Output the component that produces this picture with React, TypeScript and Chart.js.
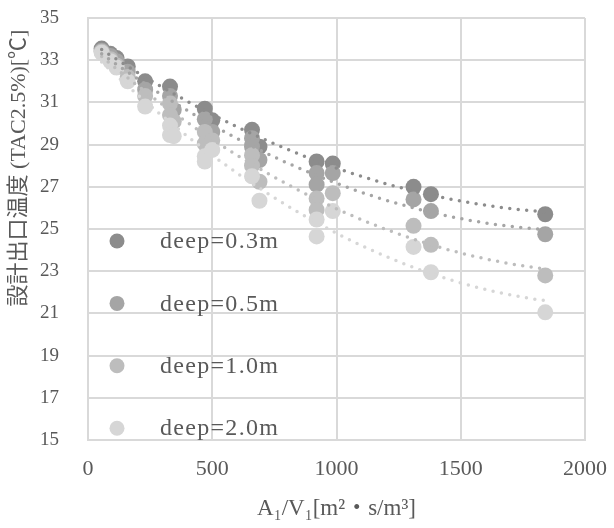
import React, { useEffect, useRef } from "react";
import { Chart, registerables } from "chart.js";

Chart.register(...registerables);

// ---- data ----
const seriesNames = ["deep=0.3m", "deep=0.5m", "deep=1.0m", "deep=2.0m"];

const x03 = [55, 90, 115, 160, 230, 330, 470, 500, 660, 690, 920, 985, 1310, 1380, 1840];
const y03 = [33.55, 33.3, 33.1, 32.7, 32.0, 31.75, 30.7, 30.15, 29.7, 28.9, 28.2, 28.1, 27.0, 26.65, 25.7];

const x05 = [55, 90, 115, 160, 230, 330, 345, 470, 500, 660, 660, 690, 920, 920, 985, 1310, 1380, 1840];
const y05 = [33.45, 33.2, 32.95, 32.45, 31.6, 31.3, 30.65, 30.2, 29.6, 29.3, 28.9, 28.27, 27.65, 27.1, 27.65, 26.4, 25.85, 24.75];

const x10 = [55, 90, 115, 160, 230, 330, 330, 345, 470, 470, 500, 660, 660, 690, 920, 920, 985, 1310, 1380, 1840];
const y10 = [33.4, 33.05, 32.75, 32.2, 31.3, 30.95, 30.4, 30.1, 29.6, 29.05, 29.2, 28.5, 28.0, 27.24, 26.45, 25.9, 26.7, 25.15, 24.25, 22.8];

const x20 = [55, 90, 115, 160, 230, 330, 330, 345, 470, 470, 500, 660, 690, 920, 920, 985, 1310, 1380, 1840];
const y20 = [33.35, 32.95, 32.65, 32.0, 30.8, 29.9, 29.45, 29.4, 28.45, 28.2, 28.75, 27.5, 26.34, 25.45, 24.65, 25.85, 24.15, 22.95, 21.05];

const xTickMin = 0;
const xTickMax = 2000;
const xTickStep = 500;
const yTickMin = 15;
const yTickMax = 35;
const yTickStep = 2;

const xTitle = "A\u2081/V\u2081[m\u00B2\u30FBs/m\u00B3]";
const yTitle = "設計出口温度 (TAC2.5%)[℃]";

const colors = ["#8c8c8c", "#a5a5a5", "#bdbdbd", "#d6d6d6"];
const textColor = "#595959";
const gridColor = "#d9d9d9";
const FONT = "'Liberation Serif', 'Noto Sans CJK JP', serif";

const seriesX = [x03, x05, x10, x20];
const seriesY = [y03, y05, y10, y20];

// polynomial (order 2) least-squares trendline, as in the spreadsheet
function quadFit(xs: number[], ys: number[]) {
  let s0 = 0, s1 = 0, s2 = 0, s3 = 0, s4 = 0, t0 = 0, t1 = 0, t2 = 0;
  for (let i = 0; i < xs.length; i++) {
    const x = xs[i], y = ys[i];
    s0 += 1; s1 += x; s2 += x * x; s3 += x * x * x; s4 += x * x * x * x;
    t0 += y; t1 += x * y; t2 += x * x * y;
  }
  const M = [
    [s0, s1, s2, t0],
    [s1, s2, s3, t1],
    [s2, s3, s4, t2],
  ];
  for (let c = 0; c < 3; c++) {
    let p = c;
    for (let r = c + 1; r < 3; r++) if (Math.abs(M[r][c]) > Math.abs(M[p][c])) p = r;
    [M[c], M[p]] = [M[p], M[c]];
    for (let r = 0; r < 3; r++) {
      if (r === c) continue;
      const f = M[r][c] / M[c][c];
      for (let k = c; k < 4; k++) M[r][k] -= f * M[c][k];
    }
  }
  return [M[0][3] / M[0][0], M[1][3] / M[1][1], M[2][3] / M[2][2]];
}

function trendPoints(xs: number[], ys: number[]) {
  const [a, b, c] = quadFit(xs, ys);
  const lo = Math.min(...xs);
  const hi = Math.max(...xs);
  const n = 60;
  const pts = [];
  for (let i = 0; i <= n; i++) {
    const x = lo + ((hi - lo) * i) / n;
    pts.push({ x, y: a + b * x + c * x * x });
  }
  return pts;
}

const overlayPlugin = {
  id: "overlay",
  afterDraw(chart: any) {
    const { ctx, chartArea } = chart;
    ctx.save();
    seriesNames.forEach((name, i) => {
      const cy = chartArea.top + 223 + i * 62.4;
      const cx = chartArea.left + 29;
      ctx.beginPath();
      ctx.arc(cx, cy, 7.5, 0, Math.PI * 2);
      ctx.fillStyle = colors[i];
      ctx.fill();
      ctx.font = `24px ${FONT}`;
      (ctx as any).letterSpacing = "1.3px";
      ctx.fillStyle = textColor;
      ctx.textAlign = "left";
      ctx.textBaseline = "middle";
      ctx.fillText(name, chartArea.left + 72, cy + 1);
      (ctx as any).letterSpacing = "0px";
    });
    ctx.translate(19, 168);
    ctx.rotate(-Math.PI / 2);
    ctx.font = `22px ${FONT}`;
    ctx.fillStyle = textColor;
    ctx.textAlign = "center";
    ctx.textBaseline = "middle";
    ctx.fillText(yTitle, 0, 0);
    ctx.restore();
  },
};

export default function App() {
  const ref = useRef<HTMLCanvasElement>(null);
  useEffect(() => {
    if (!ref.current) return;
    const datasets: any[] = [];
    seriesNames.forEach((name, i) => {
      datasets.push({
        type: "scatter",
        label: name,
        data: seriesX[i].map((x, j) => ({ x, y: seriesY[i][j] })),
        backgroundColor: colors[i],
        borderWidth: 0,
        pointRadius: 8,
        pointHoverRadius: 8,
        order: 4 - i,
      });
    });
    seriesNames.forEach((name, i) => {
      datasets.push({
        type: "line",
        label: name + " trend",
        data: trendPoints(seriesX[i], seriesY[i]),
        borderColor: colors[i],
        borderWidth: 3.5,
        borderDash: [0, 8.5],
        borderCapStyle: "round",
        pointRadius: 0,
        fill: false,
        tension: 0,
        order: 0,
      });
    });
    const chart = new Chart(ref.current, {
      type: "scatter",
      data: { datasets },
      plugins: [overlayPlugin],
      options: {
        animation: false,
        responsive: true,
        maintainAspectRatio: false,
        layout: { padding: { left: 0, right: 29, top: 18, bottom: 0 } },
        plugins: { legend: { display: false }, tooltip: { enabled: false } },
        scales: {
          x: {
            type: "linear",
            min: xTickMin,
            max: xTickMax,
            ticks: {
              stepSize: xTickStep,
              color: textColor,
              font: { family: FONT, size: 22 },
              padding: 16,
              maxRotation: 0,
              callback: (v: any) => String(v),
            },
            grid: { color: gridColor, lineWidth: 2, drawTicks: false },
            border: { color: gridColor, width: 2 },
            title: {
              display: true,
              text: xTitle,
              color: textColor,
              font: { family: FONT, size: 23 },
              padding: { top: 0, bottom: 5 },
            },
            afterFit: (s: any) => {
              s.height = 88;
              s.paddingTop = 0;
              s.paddingBottom = 0;
              s.paddingLeft = 0;
              s.paddingRight = 0;
            },
          },
          y: {
            type: "linear",
            min: yTickMin,
            max: yTickMax,
            ticks: {
              stepSize: yTickStep,
              color: textColor,
              font: { family: FONT, size: 19 },
              padding: 29,
              callback: (v: any) => String(v),
            },
            grid: { color: gridColor, lineWidth: 2, drawTicks: false },
            border: { color: gridColor, width: 2 },
            afterFit: (s: any) => {
              s.width = 88;
              s.paddingTop = 0;
              s.paddingBottom = 0;
              s.paddingLeft = 0;
              s.paddingRight = 0;
            },
          },
        },
      },
    });
    return () => chart.destroy();
  }, []);
  return (
    <div style={{ position: "fixed", left: 0, top: 0, width: 614, height: 528, background: "#fff" }}>
      <canvas ref={ref} />
    </div>
  );
}
